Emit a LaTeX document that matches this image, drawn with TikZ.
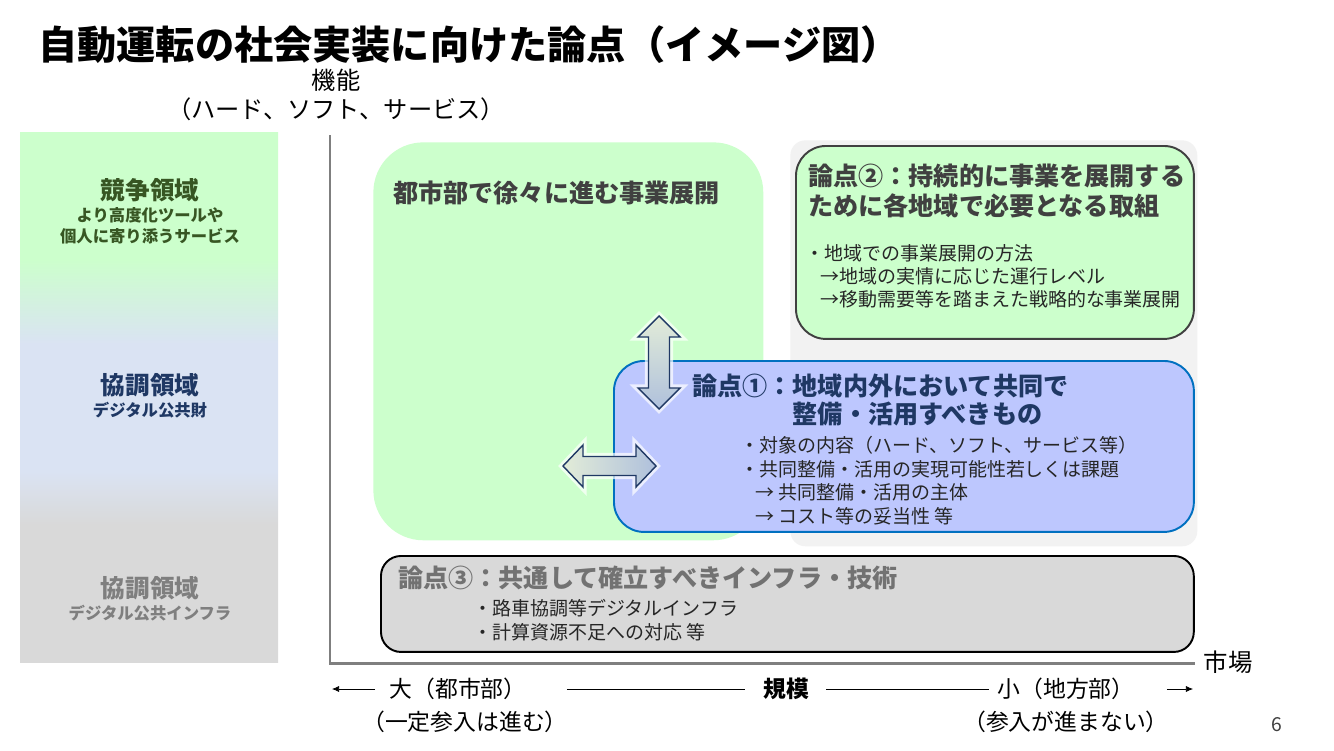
\documentclass[tikz,border=0pt]{standalone}
\usepackage{fontspec}
\setmainfont{Noto Sans CJK JP}
\usetikzlibrary{arrows.meta,calc}

\definecolor{zgreen}{HTML}{CCFFCC}
\definecolor{zblue}{HTML}{DAE3F3}
\definecolor{zgray}{HTML}{D9D9D9}
\definecolor{pblue}{HTML}{BDC7FE}
\definecolor{pborder}{HTML}{0070C0}
\definecolor{navy}{HTML}{1F3864}
\definecolor{dgreen}{HTML}{375623}
\definecolor{dgray}{HTML}{404040}
\definecolor{mgray}{HTML}{7F7F7F}
\definecolor{bggray}{HTML}{F2F2F2}
\definecolor{arrlight}{HTML}{E2ECD8}
\definecolor{arrblue}{HTML}{AFC0DC}

\pgfdeclareverticalshading{zoneshade}{100bp}{color(0bp)=(zgray); color(38bp)=(zgray); color(43bp)=(zblue); color(55bp)=(zblue); color(63bp)=(zgreen); color(100bp)=(zgreen)}

\tikzset{
  maintitle/.style={font=\fontsize{22.3}{26}\selectfont\bfseries, anchor=west, inner sep=0pt},
  zonehead/.style={font=\fontsize{14}{17}\selectfont\bfseries, inner sep=0pt},
  zonesub/.style={font=\fontsize{9.3}{11.9}\selectfont\bfseries, align=center, inner sep=0pt},
  boxhead/.style={font=\fontsize{14.3}{17}\selectfont\bfseries, anchor=west, align=left, inner sep=0pt},
  boxbody/.style={font=\fontsize{10.8}{13.4}\selectfont, anchor=west, align=left, inner sep=0pt, text=black!85},
  panel/.style={anchor=north west, inner sep=0pt},
  axisline/.style={draw=mgray, line width=1.7pt, line join=miter},
  dblarrow/.style={draw=navy, line width=0.8pt, line join=miter,
    preaction={draw=white, line width=4pt, opacity=.7}},
  scalelabel/.style={font=\fontsize{13}{15}\selectfont, inner sep=0pt},
}

\begin{document}
\begin{tikzpicture}[x=0.02cm, y=-0.02cm]
    \useasboundingbox[fill=white] (0,0) rectangle (1334,750);

    % Title
    \node[maintitle] (title) at (38,45) {自動運転の社会実装に向けた論点（イメージ図）};
    \node[font=\fontsize{13.8}{17}\selectfont, align=center, inner sep=0pt] (funcLabel) at (336,95) {機能\\（ハード、ソフト、サービス）};

    % Left zone panel
    \shade[shading=zoneshade] (20,132) rectangle (278,662);
    \node[zonehead, text=dgreen] (compHead) at (150,190) {競争領域};
    \node[zonesub, text=dgreen] (compSub) at (150,225.5) {より高度化ツールや\\個人に寄り添うサービス};
    \node[zonehead, text=navy] (coopHead) at (150,385) {協調領域};
    \node[zonesub, text=navy] (coopSub) at (150,410) {デジタル公共財};
    \node[zonehead, text=mgray] (infraHead) at (150,588) {協調領域};
    \node[zonesub, text=mgray] (infraSub) at (150,613) {デジタル公共インフラ};

    % Background of regional area
    \node[panel, fill=bggray, rounded corners=0.3cm, minimum width=8.14cm, minimum height=8.12cm] (regionBg) at (790,140) {};

    % Urban business box
    \node[panel, fill=zgreen, rounded corners=1cm, minimum width=7.8cm, minimum height=7.96cm] (cityBox) at (373,142) {};
    \node[boxhead, text=dgray] (cityHead) at (393,193) {都市部で徐々に進む事業展開};

    % Point 2
    \node[panel, fill=zgreen, draw=dgray, line width=1.1pt, rounded corners=0.6cm, minimum width=7.96cm, minimum height=3.86cm] (p2Box) at (795,145) {};
    \node[boxhead, text=dgray] (p2Head) at (808,191) {論点②：持続的に事業を展開する\\ために各地域で必要となる取組};
    \node[boxbody, font=\fontsize{10.8}{13}\selectfont] (p2Body) at (805,276) {・地域での事業展開の方法\\\hspace*{0.3cm}→地域の実情に応じた運行レベル\\\hspace*{0.3cm}→移動需要等を踏まえた戦略的な事業展開};

    % Point 1
    \node[panel, fill=pblue, draw=pborder, line width=1.1pt, rounded corners=0.6cm, minimum width=11.6cm, minimum height=3.42cm] (p1Box) at (613,360) {};
    \node[boxhead, text=navy, font=\fontsize{14.3}{16}\selectfont\bfseries] (p1Head) at (692,400) {論点①：地域内外において共同で\\\hspace*{4em}整備・活用すべきもの};
    \node[boxbody] (p1Body) at (740,480.5) {・対象の内容（ハード、ソフト、サービス等）\\・共同整備・活用の実現可能性若しくは課題\\\hspace*{0.3cm}→ 共同整備・活用の主体\\\hspace*{0.3cm}→ コスト等の妥当性 等};

    % Double arrows
    \shade[dblarrow, top color=arrlight, middle color=arrlight, bottom color=arrblue, shift={(659,362.5)}]
      (0,-46.5) -- (21,-25.5) -- (10.5,-25.5) -- (10.5,25.5) -- (21,25.5) -- (0,46.5)
      -- (-21,25.5) -- (-10.5,25.5) -- (-10.5,-25.5) -- (-21,-25.5) -- cycle;
    \shade[dblarrow, left color=arrlight, middle color=arrlight!80!yellow!90!white, right color=arrblue, shift={(609.5,466)}]
      (-46.5,0) -- (-26.5,-21) -- (-26.5,-9.5) -- (26.5,-9.5) -- (26.5,-21) -- (46.5,0)
      -- (26.5,21) -- (26.5,9.5) -- (-26.5,9.5) -- (-26.5,21) -- cycle;

    % Point 3
    \node[panel, fill=zgray, draw=black, line width=1.1pt, rounded corners=0.4cm, minimum width=16.26cm, minimum height=1.92cm] (p3Box) at (380,555) {};
    \node[boxhead, text=mgray!90!black] (p3Head) at (398,578) {論点③：共通して確立すべきインフラ・技術};
    \node[boxbody, font=\fontsize{10.8}{13.6}\selectfont] (p3Body) at (473,620) {・路車協調等デジタルインフラ\\・計算資源不足への対応 等};

    % Axes
    \coordinate (yTop) at (330,135);
    \coordinate (origin) at (330,663);
    \coordinate (xEnd) at (1195,663);
    \draw[axisline] (yTop) -- (origin) -- (xEnd);
    \node[font=\fontsize{13.9}{16}\selectfont, inner sep=0pt] (market) at (1228,662) {市場};

    % Scale
    \node[scalelabel] (dai) at (458,689) {大（都市部）};
    \node[scalelabel, font=\fontsize{13}{15}\selectfont\bfseries] (kibo) at (786,689) {規模};
    \node[scalelabel] (sho) at (1066,689) {小（地方部）};
    \node[scalelabel] (daiNote) at (465,722) {（一定参入は進む）};
    \node[scalelabel] (shoNote) at (1066,722) {（参入が進まない）};
    \coordinate (leftEnd) at (332,689);
    \coordinate (rightEnd) at (1193,689);
    \draw[-{Latex[length=4pt,width=3.5pt]}, shorten <=0.28cm] (dai.west) -- (leftEnd);
    \draw[shorten <=0.8cm, shorten >=0.36cm] (dai.east) -- (kibo.west);
    \draw[shorten <=0.34cm, shorten >=0.16cm] (kibo.east) -- (sho.west);
    \draw[-{Latex[length=4pt,width=3.5pt]}, shorten <=0.64cm] (sho.east) -- (rightEnd);

    \node[font=\fontsize{11}{13}\selectfont, text=dgray, inner sep=0pt] (pageNo) at (1277,725) {6};
\end{tikzpicture}
\end{document}
